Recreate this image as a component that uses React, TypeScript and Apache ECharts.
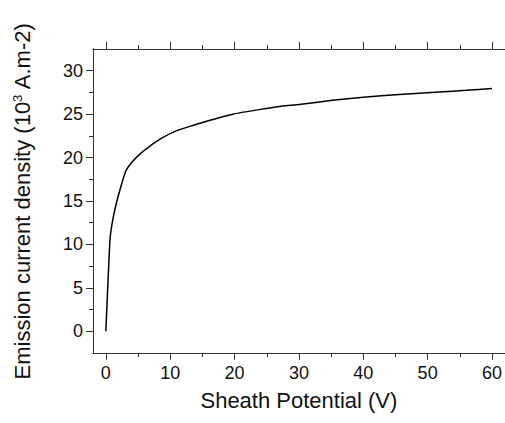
import React, { useEffect, useRef } from "react";
import * as echarts from "echarts";

const potential = [0, 0.62, 1.04, 1.65, 2.43, 3.1, 3.98, 5.27, 6.8, 8.6, 11.0, 13.5, 15.9, 19.7, 24, 27.5, 30, 35.2, 40, 45.6, 51.8, 56, 60];
const density = [0, 10.4, 12.7, 14.8, 16.9, 18.45, 19.4, 20.4, 21.3, 22.2, 23.1, 23.7, 24.25, 25.0, 25.55, 25.95, 26.1, 26.6, 26.95, 27.25, 27.55, 27.75, 27.95];

const xMajorTicks = [0, 10, 20, 30, 40, 50, 60];
const xMinorTicks = [5, 15, 25, 35, 45, 55];
const yMajorTicks = [0, 5, 10, 15, 20, 25, 30];
const yMinorTicks = [2.5, 7.5, 12.5, 17.5, 22.5, 27.5];

const X_MIN = -2;
const X_MAX = 62;
const Y_MIN = -2.5;
const Y_MAX = 32.5;

const FONT = "Liberation Sans, Arial, sans-serif";
const AXIS_COLOR = "#333";

export default function App() {
  const ref = useRef<HTMLDivElement>(null);

  useEffect(() => {
    if (!ref.current) return;
    const chart = echarts.init(ref.current, null, { renderer: "svg" });

    const baseX = (extra: any) => ({
      type: "value",
      min: X_MIN,
      max: X_MAX,
      splitLine: { show: false },
      axisLine: { show: true, onZero: false, lineStyle: { color: AXIS_COLOR, width: 1 } },
      ...extra,
    });
    const baseY = (extra: any) => ({
      type: "value",
      min: Y_MIN,
      max: Y_MAX,
      splitLine: { show: false },
      axisLine: { show: true, onZero: false, lineStyle: { color: AXIS_COLOR, width: 1 } },
      ...extra,
    });

    chart.setOption({
      animation: false,
      backgroundColor: "#fff",
      grid: { left: 93, top: 49, width: 413, height: 304, containLabel: false },
      xAxis: [
        baseX({
          position: "bottom",
          name: "Sheath Potential (V)",
          nameLocation: "middle",
          nameGap: 36,
          nameTextStyle: { fontFamily: FONT, fontSize: 22, color: "#111" },
          axisTick: { show: true, inside: false, length: 7, customValues: xMajorTicks, lineStyle: { color: AXIS_COLOR } },
          axisLabel: { show: true, margin: 11, customValues: xMajorTicks, fontFamily: FONT, fontSize: 18, color: "#111" },
        }),
        baseX({
          position: "bottom",
          axisTick: { show: true, inside: false, length: 4, customValues: xMinorTicks, lineStyle: { color: AXIS_COLOR } },
          axisLabel: { show: false },
        }),
        baseX({
          position: "top",
          axisTick: { show: true, inside: false, length: 7, customValues: xMajorTicks, lineStyle: { color: AXIS_COLOR } },
          axisLabel: { show: false },
        }),
        baseX({
          position: "top",
          axisTick: { show: true, inside: false, length: 4, customValues: xMinorTicks, lineStyle: { color: AXIS_COLOR } },
          axisLabel: { show: false },
        }),
      ],
      yAxis: [
        baseY({
          position: "left",
          name: "Emission current density (10{sup|3} A.m-2)",
          nameLocation: "middle",
          nameRotate: 90,
          nameGap: 59,
          nameTextStyle: {
            fontFamily: FONT,
            fontSize: 22,
            color: "#111",
            rich: {
              sup: { fontFamily: FONT, fontSize: 13, color: "#111", padding: [0, 0, 10, 0] },
            },
          },
          axisTick: { show: true, inside: false, length: 7, customValues: yMajorTicks, lineStyle: { color: AXIS_COLOR } },
          axisLabel: { show: true, margin: 10, customValues: yMajorTicks, fontFamily: FONT, fontSize: 18, color: "#111" },
        }),
        baseY({
          position: "left",
          axisTick: { show: true, inside: false, length: 4, customValues: yMinorTicks, lineStyle: { color: AXIS_COLOR } },
          axisLabel: { show: false },
        }),
      ],
      series: [
        {
          type: "line",
          xAxisIndex: 0,
          yAxisIndex: 0,
          data: potential.map((p, i) => [p, density[i]]),
          showSymbol: false,
          smooth: 0.15,
          lineStyle: { color: "#000", width: 1.5 },
        },
      ],
    });

    return () => chart.dispose();
  }, []);

  return (
    <div
      ref={ref}
      style={{ position: "absolute", left: 0, top: 0, width: 505, height: 423 }}
    />
  );
}
